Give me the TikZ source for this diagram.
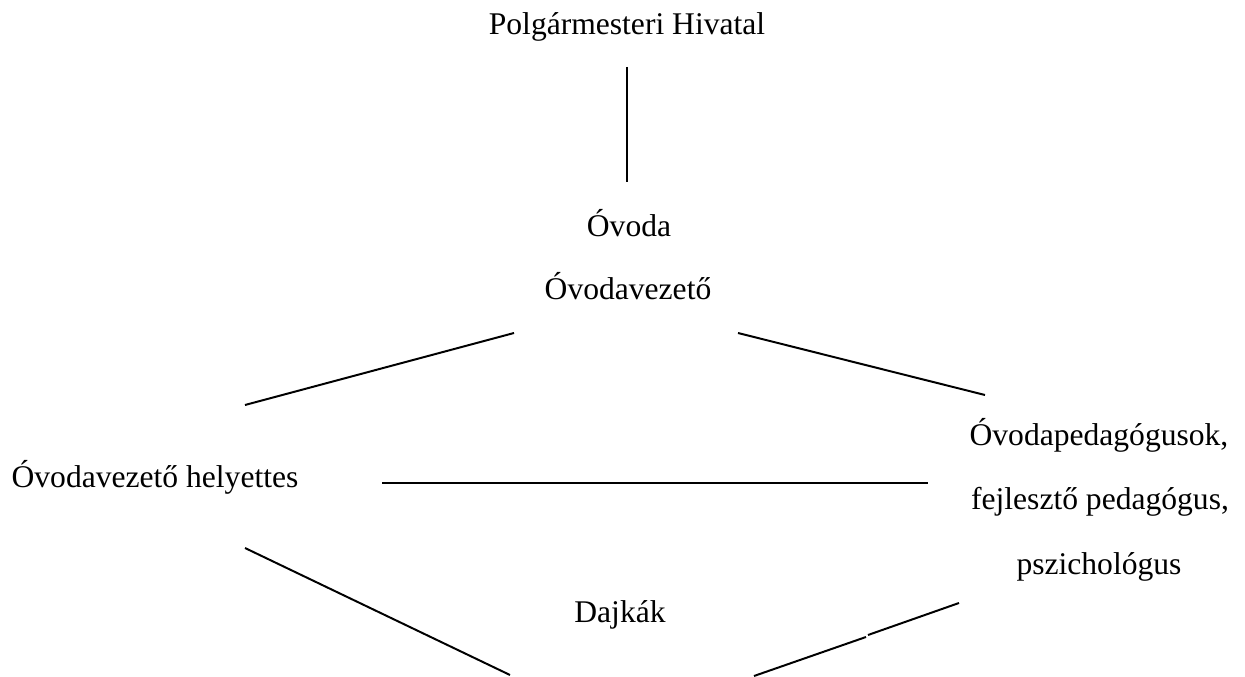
\documentclass[tikz,border=0pt]{standalone}
\usepackage{fontspec}
\setmainfont{Liberation Serif}
\usepackage{tikz}
\usetikzlibrary{arrows}

\begin{document}
\begin{tikzpicture}[x=0.38pt,y=-0.38pt,line width=0.75pt,
		label/.style={shape=rectangle,anchor=base,inner sep=0pt,font=\fontsize{12}{14}\selectfont}]
					\useasboundingbox (0,0) rectangle (1245,677);
					\node (hivatal) [label] at (627,35) {Polgármesteri Hivatal};
					\node (ovoda) [label] at (629,237) {Óvoda};
					\node (vezeto) [label] at (628,300) {Óvodavezető};
					\node (helyettes) [label] at (155,488) {Óvodavezető helyettes};
					\node (pedagogusok) [label] at (1099,445) {Óvodapedagógusok,};
					\node (fejleszto) [label] at (1100,510) {fejlesztő pedagógus,};
					\node (pszichologus) [label] at (1099,574) {pszichológus};
					\node (dajkak) [label] at (620,622) {Dajkák};

					\coordinate (h1) at (627,67);
					\coordinate (h2) at (627,182);
					\coordinate (v1) at (514,333);
					\coordinate (v2) at (245,405);
					\coordinate (v3) at (738,333);
					\coordinate (v4) at (985,395);
					\coordinate (k1) at (382,483);
					\coordinate (k2) at (928,483);
					\coordinate (d1) at (245,548);
					\coordinate (d2) at (510,675);
					\coordinate (d3) at (754,676);
					\coordinate (d4) at (866,637);
					\coordinate (d5) at (868,635);
					\coordinate (d6) at (959,603);

					\path (h1) edge (h2);
					\path (v1) edge (v2);
					\path (v3) edge (v4);
					\path (k1) edge (k2);
					\path (d1) edge (d2);
					\path (d3) edge (d4);
					\path (d5) edge (d6);
				\end{tikzpicture}
\end{document}
